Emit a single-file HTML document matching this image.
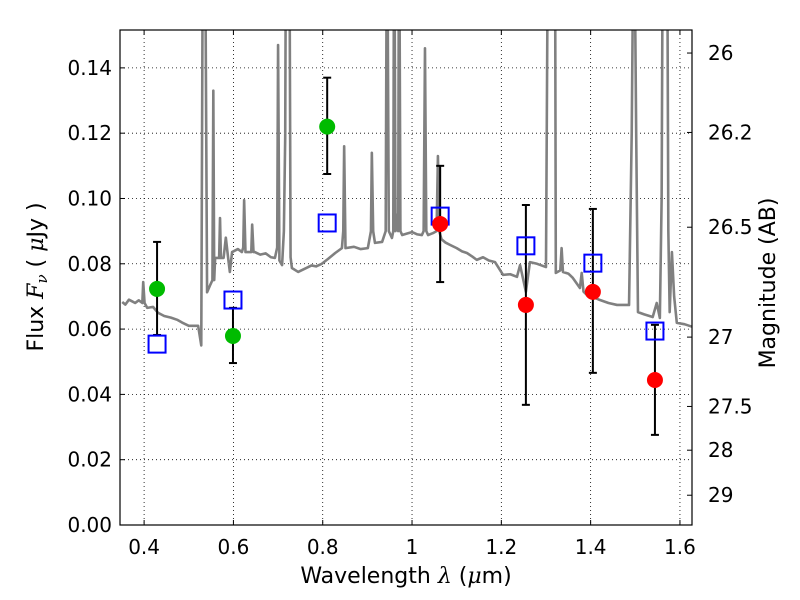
<!DOCTYPE html>
<html><head><meta charset="utf-8"><style>
body{margin:0;background:#fff;}
svg{display:block;font-family:"DejaVu Sans","Liberation Sans",sans-serif;}
</style></head><body>
<svg id="chart" width="800" height="600" xmlns="http://www.w3.org/2000/svg">
<rect width="800" height="600" fill="#fff"/>
<defs><clipPath id="pc"><rect x="120" y="30" width="572" height="495"/></clipPath></defs>
<g id="grid"></g>
<g id="spec" clip-path="url(#pc)"></g>
<g id="marks" clip-path="url(#pc)"></g>
<rect x="120" y="30" width="572" height="495" fill="none" stroke="#000" stroke-width="1.2"/>
<g id="axes"></g>
<text x="406" y="583" font-size="22" text-anchor="middle">Wavelength  <tspan font-style="italic" font-family="DejaVu Serif,serif">λ</tspan> (<tspan font-style="italic" font-family="DejaVu Serif,serif">μ</tspan>m)</text>
<text transform="translate(43,277) rotate(-90)" font-size="22" text-anchor="middle">Flux  <tspan font-style="italic" font-family="DejaVu Serif,serif">F</tspan><tspan font-style="italic" font-size="15" dy="4" font-family="DejaVu Serif,serif">ν</tspan><tspan dy="-4">  ( </tspan><tspan font-style="italic" font-family="DejaVu Serif,serif">μ</tspan>Jy )</text>
<text transform="translate(775,283) rotate(-90)" font-size="22" text-anchor="middle">Magnitude (AB)</text>
</svg>
<script>
const xTicks=[0.4,0.6,0.8,1.0,1.2,1.4,1.6];
const xTickLabels=["0.4","0.6","0.8","1","1.2","1.4","1.6"];
const yTicks=[0,0.02,0.04,0.06,0.08,0.10,0.12,0.14];
const yTickLabels=["0.00","0.02","0.04","0.06","0.08","0.10","0.12","0.14"];
const magTicks=[26,26.2,26.5,27,27.5,28,29];
const magTickLabels=["26","26.2","26.5","27","27.5","28","29"];
const specWave=[0.351,0.358,0.366,0.373,0.380,0.388,0.396,0.398,0.401,0.407,0.420,0.431,0.445,0.460,0.475,0.485,0.500,0.521,0.528,0.532,0.536,0.541,0.548,0.553,0.555,0.557,0.559,0.568,0.570,0.572,0.578,0.583,0.588,0.592,0.597,0.610,0.619,0.622,0.624,0.627,0.640,0.642,0.645,0.648,0.660,0.672,0.684,0.693,0.698,0.700,0.703,0.709,0.713,0.716,0.718,0.720,0.722,0.725,0.728,0.731,0.745,0.760,0.775,0.785,0.798,0.812,0.828,0.843,0.846,0.848,0.851,0.870,0.885,0.901,0.908,0.910,0.913,0.917,0.933,0.941,0.944,0.948,0.955,0.958,0.960,0.963,0.966,0.969,0.971,0.974,0.978,0.990,1.0,1.012,1.022,1.026,1.029,1.032,1.036,1.047,1.055,1.058,1.061,1.066,1.075,1.085,1.100,1.112,1.123,1.135,1.145,1.159,1.172,1.186,1.204,1.220,1.235,1.242,1.255,1.264,1.280,1.300,1.305,1.320,1.322,1.332,1.335,1.338,1.350,1.360,1.376,1.380,1.384,1.392,1.405,1.421,1.440,1.459,1.486,1.492,1.497,1.502,1.506,1.520,1.539,1.548,1.555,1.559,1.562,1.571,1.574,1.577,1.582,1.587,1.593,1.610,1.630];
const specFlux=[0.0683,0.0675,0.069,0.0685,0.068,0.0688,0.068,0.0744,0.068,0.0665,0.0668,0.065,0.064,0.0635,0.0628,0.062,0.061,0.061,0.055,0.2,0.2,0.0713,0.0735,0.075,0.133,0.075,0.0818,0.0818,0.094,0.0818,0.0818,0.088,0.082,0.0775,0.0836,0.0845,0.0836,0.085,0.0995,0.0836,0.0836,0.092,0.0836,0.0836,0.0828,0.0832,0.082,0.0818,0.085,0.147,0.081,0.0796,0.090,0.119,0.20,0.20,0.20,0.2,0.082,0.0787,0.0775,0.0785,0.0795,0.0792,0.080,0.0815,0.0833,0.0848,0.09,0.116,0.0848,0.0852,0.0845,0.0848,0.09,0.114,0.09,0.0864,0.0867,0.09,0.20,0.09,0.0879,0.09,0.2,0.09,0.095,0.09,0.2,0.09,0.0888,0.0893,0.0897,0.089,0.0888,0.09,0.146,0.09,0.0888,0.0894,0.090,0.113,0.09,0.0875,0.0865,0.0858,0.0848,0.0838,0.0833,0.0822,0.0812,0.082,0.081,0.0805,0.0766,0.0768,0.076,0.0796,0.0714,0.0805,0.080,0.079,0.2,0.2,0.0772,0.078,0.0848,0.0775,0.077,0.0757,0.0726,0.0772,0.0715,0.0704,0.0698,0.0689,0.068,0.0674,0.0674,0.12,0.2,0.12,0.0652,0.0645,0.0637,0.068,0.0634,0.10,0.2,0.2,0.09,0.0652,0.0836,0.070,0.0619,0.0615,0.0606];
const circWave=[0.429,0.599,0.810,1.063,1.255,1.405,1.544];
const circFlux=[0.0723,0.0579,0.122,0.0922,0.0674,0.0714,0.0444];
const circHi=[0.0867,0.0665,0.137,0.110,0.098,0.0968,0.0613];
const circLo=[0.0582,0.0496,0.1075,0.0744,0.0368,0.0466,0.0276];
const circColor=["#00bb00","#00bb00","#00bb00","#ff0000","#ff0000","#ff0000","#ff0000"];
const sqWave=[0.429,0.599,0.810,1.063,1.255,1.405,1.544];
const sqFlux=[0.0554,0.0689,0.0925,0.0946,0.0855,0.0802,0.0594];

const X0=120,X1=692,Y0=525,Y1=30,XMIN=0.346,XMAX=1.627,YMIN=0,YMAX=0.1516;
const sx=v=>X0+(v-XMIN)/(XMAX-XMIN)*(X1-X0);
const sy=v=>Y0-(v-YMIN)/(YMAX-YMIN)*(Y0-Y1);
const magToFlux=m=>Math.pow(10,(23.9-m)/2.5);
const NS="http://www.w3.org/2000/svg";
function mk(p,t,a){const e=document.createElementNS(NS,t);for(const k in a)e.setAttribute(k,a[k]);p.appendChild(e);return e;}
const grid=document.getElementById('grid'),axes=document.getElementById('axes');
xTicks.forEach((t,i)=>{const x=sx(t);
 const g=mk(grid,'line',{x1:x,x2:x,y1:Y1,y2:Y0,stroke:'#000','stroke-width':0.8,'stroke-dasharray':'1,3'});
 
 mk(axes,'line',{x1:x,x2:x,y1:Y0,y2:Y0-5,stroke:'#000'});mk(axes,'line',{x1:x,x2:x,y1:Y1,y2:Y1+5,stroke:'#000'});
 const l=mk(axes,'text',{x:x,y:Y0+29,'font-size':20,'text-anchor':'middle'});l.textContent=xTickLabels[i];
 });
yTicks.forEach((t,i)=>{const y=sy(t);
 if(t>0){const g=mk(grid,'line',{x1:X0,x2:X1,y1:y,y2:y,stroke:'#000','stroke-width':0.8,'stroke-dasharray':'1,3'});
 }
 mk(axes,'line',{x1:X0,x2:X0+5,y1:y,y2:y,stroke:'#000'});
 const l=mk(axes,'text',{x:X0-8,y:y+7,'font-size':20,'text-anchor':'end'});l.textContent=yTickLabels[i];
 });
magTicks.forEach((m,i)=>{const y=sy(magToFlux(m));
 mk(axes,'line',{x1:X1-5,x2:X1,y1:y,y2:y,stroke:'#000'});
 const l=mk(axes,'text',{x:X1+16,y:y+7,'font-size':20});l.textContent=magTickLabels[i];
 });
const spec=document.getElementById('spec');
const pl=mk(spec,'polyline',{points:specWave.map((w,i)=>sx(w)+','+sy(specFlux[i])).join(' '),fill:'none',stroke:'#808080','stroke-width':2.6,'stroke-linejoin':'round'});

const marks=document.getElementById('marks');
circWave.forEach((w,i)=>{const x=sx(w);
 const e=mk(marks,'g',{});
 mk(e,'line',{x1:x,x2:x,y1:sy(circHi[i]),y2:sy(circLo[i]),stroke:'#000','stroke-width':2});
 mk(e,'line',{x1:x-4,x2:x+4,y1:sy(circHi[i]),y2:sy(circHi[i]),stroke:'#000','stroke-width':2});
 mk(e,'line',{x1:x-4,x2:x+4,y1:sy(circLo[i]),y2:sy(circLo[i]),stroke:'#000','stroke-width':2});});
sqWave.forEach((w,i)=>{const r=mk(marks,'rect',{x:sx(w)-8.5,y:sy(sqFlux[i])-8.5,width:17,height:17,fill:'none',stroke:'#0000ff','stroke-width':2});
 });
circWave.forEach((w,i)=>{const c=mk(marks,'circle',{cx:sx(w),cy:sy(circFlux[i]),r:8,fill:circColor[i]});
 });
</script>
</body></html>
